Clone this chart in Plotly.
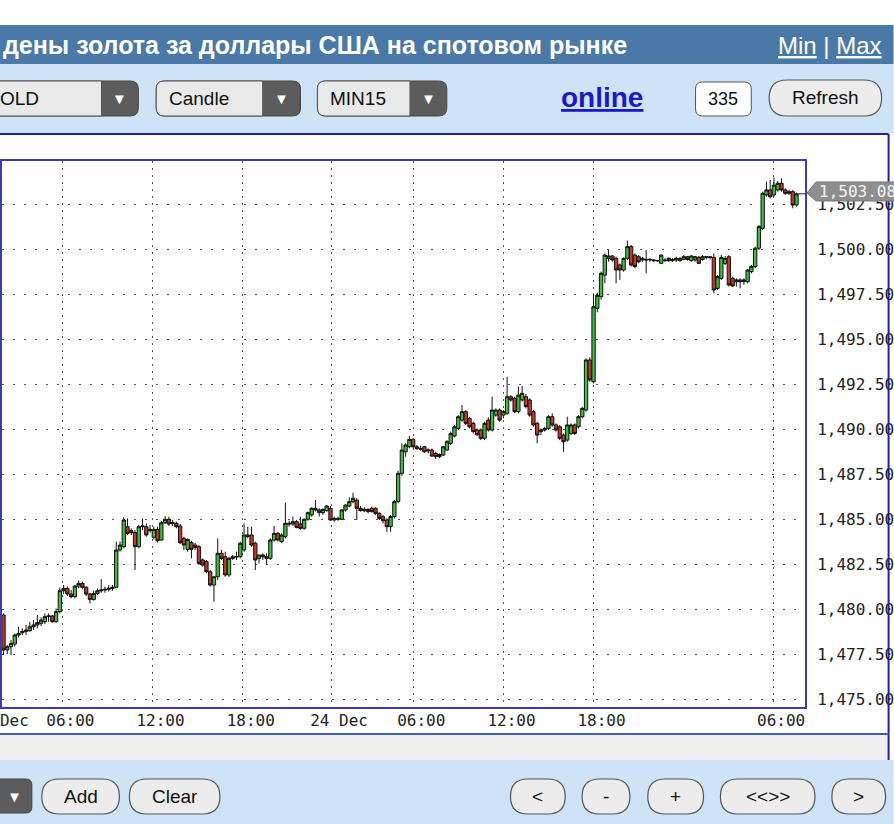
import plotly.graph_objects as go

# ---------------- data (15-minute candles, XAU/USD) ----------------
open_prices = [
    1479.68, 1477.74, 1477.92, 1478.07, 1478.57, 1478.70, 1478.76, 1478.81, 1479.03, 1479.13,
    1479.22, 1479.31, 1479.59, 1479.63, 1479.31, 1479.87, 1481.03, 1481.16, 1480.85, 1480.70,
    1481.29, 1481.44, 1481.22, 1480.85, 1480.55, 1480.88, 1481.03, 1481.07, 1481.11, 1481.16,
    1481.22, 1483.29, 1483.48, 1484.59, 1484.37, 1484.26, 1483.48, 1484.59, 1484.59, 1484.37,
    1484.00, 1484.44, 1483.85, 1484.81, 1485.00, 1484.77, 1484.77, 1484.63, 1483.94, 1483.33,
    1483.70, 1483.57, 1483.48, 1482.74, 1482.65, 1482.09, 1481.35, 1481.81, 1483.11, 1482.92,
    1481.91, 1482.83, 1482.92, 1482.92, 1483.30, 1484.13, 1484.13, 1483.67, 1482.83, 1483.02,
    1482.92, 1482.83, 1483.85, 1484.22, 1483.76, 1484.04, 1484.78, 1484.74, 1484.87, 1484.74,
    1484.50, 1485.00, 1485.24, 1485.61, 1485.52, 1485.37, 1485.48, 1485.61, 1484.96, 1485.05,
    1485.00, 1485.52, 1485.74, 1485.98, 1486.07, 1485.61, 1485.48, 1485.55, 1485.61, 1485.61,
    1485.33, 1485.15, 1484.96, 1484.59, 1485.15, 1485.98, 1487.55, 1488.75, 1489.03, 1489.44,
    1489.03, 1488.94, 1489.03, 1488.80, 1488.85, 1488.66, 1488.48, 1488.57, 1488.85, 1489.22,
    1489.63, 1490.05, 1490.51, 1490.98, 1490.61, 1490.33, 1489.96, 1489.96, 1489.50, 1490.51,
    1489.96, 1490.79, 1491.07, 1490.79, 1490.89, 1491.81, 1491.72, 1490.98, 1491.63, 1491.81,
    1491.63, 1490.98, 1490.33, 1489.87, 1489.96, 1490.05, 1490.70, 1490.24, 1490.14, 1489.68,
    1489.40, 1489.77, 1490.24, 1490.14, 1490.70, 1491.07, 1493.85, 1492.64, 1496.72, 1497.37,
    1498.57, 1499.50, 1499.63, 1499.50, 1499.13, 1498.85, 1499.50, 1500.15, 1499.68, 1499.59,
    1499.41, 1499.44, 1499.41, 1499.41, 1499.37, 1499.22, 1499.41, 1499.50, 1499.37, 1499.41,
    1499.37, 1499.44, 1499.59, 1499.37, 1499.41, 1499.55, 1499.44, 1499.55, 1499.59, 1499.55,
    1497.83, 1498.39, 1499.22, 1499.59, 1498.39, 1498.20, 1498.30, 1498.20, 1498.20, 1498.76,
    1499.04, 1500.06, 1501.17, 1503.02, 1503.30, 1503.02, 1503.30, 1503.67, 1503.30, 1503.11,
    1503.20, 1502.46,
]
high_prices = [
    1479.77, 1478.01, 1478.29, 1478.66, 1479.03, 1478.94, 1479.13, 1479.31, 1479.40, 1479.68,
    1479.55, 1479.77, 1479.77, 1479.68, 1480.05, 1481.22, 1481.35, 1481.26, 1481.07, 1481.35,
    1481.59, 1481.53, 1481.29, 1480.92, 1481.03, 1481.16, 1481.68, 1481.26, 1481.35, 1481.35,
    1483.76, 1483.76, 1485.11, 1485.05, 1484.50, 1484.40, 1484.68, 1485.05, 1484.77, 1484.68,
    1484.59, 1484.59, 1484.92, 1485.18, 1485.14, 1484.96, 1484.87, 1484.74, 1484.03, 1483.94,
    1483.81, 1483.70, 1483.57, 1482.83, 1482.74, 1482.18, 1481.81, 1483.94, 1483.30, 1483.20,
    1482.92, 1483.02, 1483.20, 1483.76, 1484.78, 1484.59, 1484.59, 1483.76, 1483.02, 1483.11,
    1483.11, 1483.94, 1484.63, 1484.31, 1484.22, 1485.92, 1484.92, 1485.15, 1484.96, 1485.15,
    1485.05, 1485.43, 1485.67, 1486.07, 1485.61, 1485.61, 1485.79, 1485.74, 1485.15, 1485.15,
    1485.55, 1485.83, 1486.22, 1486.48, 1486.17, 1485.74, 1485.67, 1485.61, 1485.70, 1485.67,
    1485.40, 1485.24, 1485.05, 1485.24, 1486.07, 1487.70, 1489.22, 1489.22, 1489.63, 1489.50,
    1489.13, 1489.08, 1489.08, 1488.94, 1488.94, 1488.75, 1488.66, 1489.08, 1489.40, 1489.87,
    1490.24, 1490.79, 1491.35, 1491.07, 1490.70, 1490.42, 1490.05, 1490.05, 1490.42, 1490.66,
    1491.81, 1491.16, 1491.16, 1491.07, 1492.92, 1491.90, 1491.81, 1492.37, 1492.40, 1491.95,
    1491.72, 1491.07, 1490.42, 1490.05, 1490.14, 1490.79, 1490.89, 1490.33, 1490.24, 1489.77,
    1490.70, 1490.33, 1490.33, 1490.79, 1491.26, 1493.95, 1494.00, 1497.55, 1497.60, 1498.76,
    1499.77, 1499.96, 1499.68, 1499.59, 1499.22, 1499.55, 1500.48, 1500.24, 1499.77, 1499.68,
    1499.59, 1499.96, 1499.50, 1499.44, 1499.41, 1499.72, 1499.50, 1499.55, 1499.50, 1499.59,
    1499.55, 1499.68, 1499.63, 1499.68, 1499.63, 1499.63, 1499.68, 1499.63, 1499.63, 1499.77,
    1498.57, 1499.68, 1499.63, 1499.68, 1498.48, 1498.39, 1498.39, 1498.39, 1498.90, 1499.13,
    1500.15, 1501.35, 1503.20, 1503.76, 1503.85, 1504.00, 1503.80, 1503.94, 1503.39, 1503.30,
    1503.30, 1503.15,
]
low_prices = [
    1477.46, 1477.51, 1477.46, 1477.92, 1478.44, 1478.57, 1478.57, 1478.76, 1478.85, 1478.94,
    1479.07, 1479.18, 1479.31, 1479.26, 1479.26, 1479.77, 1480.85, 1480.74, 1480.61, 1480.61,
    1481.16, 1481.11, 1480.74, 1480.33, 1480.48, 1480.79, 1480.92, 1480.92, 1480.98, 1481.03,
    1481.16, 1483.20, 1483.39, 1484.13, 1484.13, 1482.18, 1483.39, 1484.40, 1484.03, 1484.26,
    1483.88, 1483.70, 1483.81, 1484.74, 1484.63, 1484.63, 1484.50, 1483.63, 1483.29, 1483.20,
    1482.83, 1483.29, 1482.46, 1482.37, 1482.00, 1481.26, 1480.42, 1481.63, 1482.74, 1481.81,
    1481.81, 1482.74, 1482.74, 1482.83, 1483.20, 1483.94, 1483.48, 1482.18, 1482.55, 1482.74,
    1482.46, 1482.74, 1483.76, 1483.76, 1483.67, 1483.94, 1484.59, 1484.63, 1484.50, 1484.42,
    1484.42, 1484.92, 1485.15, 1485.43, 1485.15, 1485.24, 1485.43, 1484.92, 1484.87, 1484.92,
    1484.96, 1485.43, 1485.67, 1485.89, 1484.96, 1485.43, 1485.40, 1485.33, 1485.37, 1485.24,
    1484.96, 1484.78, 1484.31, 1484.31, 1485.05, 1485.89, 1487.40, 1488.48, 1488.94, 1488.94,
    1488.85, 1488.80, 1488.70, 1488.66, 1488.48, 1488.35, 1488.40, 1488.51, 1488.80, 1489.13,
    1489.55, 1489.96, 1490.42, 1490.24, 1490.05, 1489.77, 1489.63, 1489.40, 1489.40, 1489.87,
    1489.87, 1490.70, 1490.42, 1490.61, 1490.79, 1491.54, 1490.89, 1490.89, 1491.54, 1491.16,
    1490.70, 1490.14, 1489.22, 1489.68, 1489.87, 1489.96, 1490.14, 1489.87, 1489.40, 1488.75,
    1489.31, 1489.68, 1489.68, 1490.05, 1490.61, 1490.98, 1492.64, 1492.55, 1496.50, 1497.20,
    1498.11, 1499.31, 1499.31, 1498.11, 1498.30, 1498.76, 1499.41, 1499.04, 1498.95, 1499.22,
    1499.31, 1498.67, 1499.31, 1499.31, 1499.31, 1499.18, 1499.31, 1499.31, 1499.31, 1499.31,
    1499.31, 1499.41, 1499.37, 1499.31, 1499.31, 1499.18, 1499.37, 1499.44, 1499.44, 1497.55,
    1497.74, 1498.30, 1499.13, 1497.93, 1497.93, 1497.93, 1497.83, 1498.02, 1498.11, 1498.67,
    1498.95, 1499.96, 1501.08, 1502.92, 1502.83, 1502.92, 1503.20, 1503.20, 1503.02, 1503.02,
    1502.28, 1502.37,
]
close_prices = [
    1477.74, 1477.92, 1478.11, 1478.57, 1478.66, 1478.76, 1478.85, 1479.03, 1479.13, 1479.26,
    1479.40, 1479.59, 1479.63, 1479.31, 1479.87, 1481.03, 1481.16, 1480.85, 1480.70, 1481.29,
    1481.44, 1481.22, 1480.85, 1480.55, 1480.88, 1481.03, 1481.07, 1481.11, 1481.16, 1481.22,
    1483.29, 1483.57, 1484.96, 1484.22, 1484.26, 1483.48, 1484.59, 1484.63, 1484.13, 1484.44,
    1484.44, 1483.81, 1484.81, 1485.00, 1484.74, 1484.81, 1484.59, 1483.70, 1483.57, 1483.88,
    1483.33, 1483.44, 1482.55, 1482.46, 1482.09, 1481.35, 1481.81, 1483.11, 1482.83, 1481.91,
    1482.83, 1482.92, 1482.92, 1483.67, 1484.13, 1484.04, 1483.57, 1482.74, 1483.02, 1482.92,
    1482.83, 1483.85, 1484.22, 1483.85, 1484.13, 1484.78, 1484.74, 1484.87, 1484.55, 1484.50,
    1485.00, 1485.37, 1485.61, 1485.52, 1485.37, 1485.55, 1485.74, 1484.96, 1485.05, 1485.00,
    1485.52, 1485.79, 1485.98, 1486.17, 1485.61, 1485.48, 1485.55, 1485.43, 1485.43, 1485.33,
    1485.05, 1484.92, 1484.59, 1485.15, 1485.98, 1487.55, 1488.85, 1489.13, 1489.44, 1489.03,
    1488.94, 1488.90, 1488.75, 1488.85, 1488.51, 1488.48, 1488.60, 1489.03, 1489.31, 1489.77,
    1490.14, 1490.70, 1490.98, 1490.33, 1490.14, 1489.87, 1489.70, 1489.50, 1490.33, 1489.96,
    1491.07, 1491.07, 1490.51, 1490.98, 1491.81, 1491.63, 1490.98, 1491.90, 1492.00, 1491.26,
    1490.79, 1490.24, 1489.68, 1489.96, 1490.05, 1490.70, 1490.24, 1489.96, 1489.50, 1489.31,
    1490.24, 1490.24, 1489.77, 1490.70, 1491.16, 1493.85, 1492.74, 1496.81, 1497.45, 1498.67,
    1499.68, 1499.63, 1499.41, 1498.85, 1498.85, 1499.50, 1500.15, 1499.13, 1499.04, 1499.31,
    1499.50, 1499.41, 1499.44, 1499.37, 1499.37, 1499.68, 1499.37, 1499.37, 1499.41, 1499.50,
    1499.50, 1499.59, 1499.44, 1499.63, 1499.59, 1499.22, 1499.59, 1499.59, 1499.55, 1497.74,
    1498.48, 1499.55, 1499.50, 1498.02, 1497.96, 1498.30, 1498.20, 1498.30, 1498.85, 1499.04,
    1500.06, 1501.26, 1503.11, 1503.30, 1502.92, 1503.57, 1503.67, 1503.30, 1503.11, 1503.20,
    1502.46, 1503.08,
]
last_price_label = "1,503.08"

# time-axis labels (bar-index positions of the session marks)
x_tick_labels = ["06:00", "12:00", "18:00", "24 Dec", "06:00", "12:00", "18:00", "06:00"]
x_tick_index = [15.67, 39.66, 63.67, 87.16, 109.03, 133.04, 157.0, 204.79]
first_day_label = "23 Dec"

y_tick_values = [1475.0, 1477.5, 1480.0, 1482.5, 1485.0, 1487.5, 1490.0, 1492.5, 1495.0, 1497.5, 1500.0, 1502.5]
y_tick_labels = [f"{v:,.2f}" for v in y_tick_values]

title_text = "дены золота за доллары США на спотовом рынке"
symbol_text, chart_type_text, period_text = "OLD", "Candle", "MIN15"
count_text = "335"

# ---------------- geometry helpers ----------------
W, H = 894, 824
ML, MR, MT, MB = 0, 87, 161, 117
PW = W - ML - MR
PH = H - MT - MB


def px(x):
    return (x - ML) / PW


def py(y):
    return (H - MB - y) / PH


def pt(x, y):
    return f"{px(x):.5f},{py(y):.5f}"


def rr_path(x0, y0, x1, y1, rl, rr):
    return (f"M{pt(x0 + rl, y0)} L{pt(x1 - rr, y0)} Q{pt(x1, y0)} {pt(x1, y0 + rr)} "
            f"L{pt(x1, y1 - rr)} Q{pt(x1, y1)} {pt(x1 - rr, y1)} L{pt(x0 + rl, y1)} "
            f"Q{pt(x0, y1)} {pt(x0, y1 - rl)} L{pt(x0, y0 + rl)} Q{pt(x0, y0)} {pt(x0 + rl, y0)} Z")


shapes = []
annotations = []


def rect(x0, y0, x1, y1, fill, layer="below"):
    shapes.append(dict(type="rect", xref="paper", yref="paper", x0=px(x0), x1=px(x1),
                       y0=py(y1), y1=py(y0), fillcolor=fill, line=dict(width=0), layer=layer))


def line(x0, y0, x1, y1, color, width):
    shapes.append(dict(type="line", xref="paper", yref="paper", x0=px(x0), x1=px(x1),
                       y0=py(y0), y1=py(y1), line=dict(color=color, width=width), layer="above"))


def path(d, fill, lc="#555555", lw=1):
    shapes.append(dict(type="path", xref="paper", yref="paper", path=d, fillcolor=fill,
                       line=dict(color=lc, width=lw), layer="above"))


def text(x, y, s, size=19, color="#111111", anchor="center", family="Liberation Sans", weight="normal"):
    annotations.append(dict(xref="paper", yref="paper", x=px(x), y=py(y), text=s, showarrow=False,
                            xanchor=anchor, yanchor="middle",
                            font=dict(size=size, color=color, family=family, weight=weight)))


FONT_UI = "Liberation Sans"
MONO = "DejaVu Sans Mono"

# bands
rect(-2, 25, 896, 64, "#4a79a8")
rect(-2, 64, 896, 133, "#cfe3f7")
rect(-2, 734, 891, 760, "#efefef")
rect(-2, 760, 896, 826, "#cfe3f7")
line(-2, 134, 891, 134, "#22229a", 2)
line(891, 134, 891, 760, "#22229a", 2)
line(-2, 734, 891, 734, "#3b5cc0", 2)

# title bar text
text(630, 45, title_text, size=25, color="white", anchor="right", family=FONT_UI, weight="bold")
text(778, 45, "<u>Min</u> | <u>Max</u>", size=24, color="white", anchor="left", family=FONT_UI)


# dropdowns
def dropdown(x0, x1, split, label):
    y0, y1 = 81, 116
    path(rr_path(x0, y0, x1, y1, 8, 8), "#5c5c5c", "#444444", 1)
    path(rr_path(x0, y0, split, y1, 8, 0), "#e9e9e9", "#555555", 1)
    text((split + x1) / 2, 99, "▼", size=15, color="white")
    if label:
        text(x0 + 11, 99, label, size=19, anchor="left", family=FONT_UI)


dropdown(-12, 137, 100, "")
text(-4, 99, symbol_text, size=19, anchor="left", family=FONT_UI)
dropdown(155, 300, 262, chart_type_text)
dropdown(317, 447, 410, period_text)

text(603, 98, "<b><u>online</u></b>", size=28, color="#1a1ac8", family=FONT_UI)
path(rr_path(697, 82, 753, 116, 7, 7), "white", "#555555", 1)
text(725, 99, count_text, size=18, family=FONT_UI)


def pill(x0, x1, y0, y1, label, size=19):
    r = (y1 - y0) / 2
    path(rr_path(x0, y0, x1, y1, r, r), "#ececec", "#555555", 1.2)
    text((x0 + x1) / 2, (y0 + y1) / 2, label, size=size, family=FONT_UI)


pill(771, 884, 80, 116, "Refresh")

# bottom toolbar
path(rr_path(-12, 779, 30, 813, 6, 6), "#5c5c5c", "#444444", 1)
text(13, 796, "▼", size=15, color="white")
for x0, x1, lab in [(40, 118, "Add"), (128, 219, "Clear"), (511, 566, "<"), (583, 631, "-"),
                    (649, 705, "+"), (722, 817, "&lt;&lt;&gt;&gt;"), (834, 888, "&gt;")]:
    pill(x0, x1, 779, 814, lab)

# x label for the day starting left of the visible window
text(-2, 720, first_day_label, size=16, color="#222222", family=MONO)

# last price tag
path(f"M{pt(809, 193)} L{pt(818, 182)} L{pt(900, 182)} L{pt(900, 201)} L{pt(818, 201)} Z",
     "#8f8f8f", "#7a7a7a", 1)
text(819, 191.5, last_price_label, size=16, color="#f4f4f4", anchor="left", family=MONO)

n = len(close_prices)
bar_index = list(range(n))
shapes.append(dict(type="line", xref="x", yref="y", x0=n - 0.6, x1=213.3,
                   y0=close_prices[-1], y1=close_prices[-1],
                   line=dict(color="#222222", width=1), layer="above"))

fig = go.Figure(go.Candlestick(
    x=bar_index, open=open_prices, high=high_prices, low=low_prices, close=close_prices,
    increasing=dict(line=dict(color="#111111", width=1), fillcolor="#3dbf3d"),
    decreasing=dict(line=dict(color="#111111", width=1), fillcolor="#c0392b"),
    whiskerwidth=0, showlegend=False, hoverinfo="skip",
))

fig.update_layout(
    width=W, height=H,
    margin=dict(l=ML, r=MR, t=MT, b=MB, pad=0),
    paper_bgcolor="white", plot_bgcolor="white",
    boxgap=0.12, boxgroupgap=0,
    shapes=shapes, annotations=annotations,
    xaxis=dict(
        range=[-0.397, 213.26], rangeslider=dict(visible=False),
        tickmode="array", tickvals=x_tick_index, ticktext=x_tick_labels,
        showgrid=True, gridcolor="#555555", gridwidth=1, griddash="2px,5px",
        zeroline=False, ticks="", ticklabelshift=8, ticklabelstandoff=-2,
        tickfont=dict(family=MONO, size=16, color="#222222"),
        showline=True, mirror=True, linecolor="#3a3ac0", linewidth=2,
    ),
    yaxis=dict(
        side="right", range=[1474.572, 1504.906],
        tickmode="array", tickvals=y_tick_values, ticktext=y_tick_labels,
        showgrid=True, gridcolor="#555555", gridwidth=1, griddash="2px,9px",
        zeroline=False, ticks="", ticklabelstandoff=7,
        tickfont=dict(family=MONO, size=16, color="#222222"),
        showline=True, mirror=True, linecolor="#3a3ac0", linewidth=2,
    ),
)

fig.write_html("out.html", config={"displayModeBar": False},
               post_script="document.body.style.margin='0px';")
